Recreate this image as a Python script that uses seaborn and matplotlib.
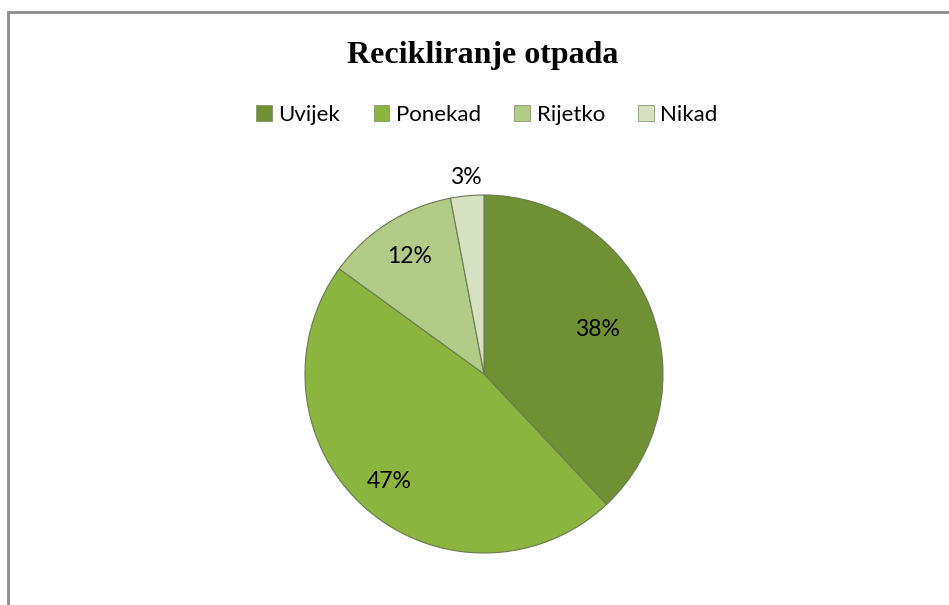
import numpy as np
import matplotlib
matplotlib.use("Agg")
import matplotlib.pyplot as plt
import seaborn as sns
from matplotlib.patches import Rectangle, Patch

categories = ["Uvijek", "Ponekad", "Rijetko", "Nikad"]
values = [38, 47, 12, 3]
labels = ["38%", "47%", "12%", "3%"]
colors = ["#6f9133", "#8cb53f", "#b2cb86", "#d5e1c1"]
label_radius = [0.68, 0.80, 0.78, 1.10]

sns.set_theme(style="white")
plt.rcParams['font.family'] = ['Lato', 'DejaVu Sans']

W, H = 949, 605
fig = plt.figure(figsize=(W / 100, H / 100), dpi=100)
fig.patch.set_facecolor("white")

# outer border (top-left visible)
fig.add_artist(Rectangle((8 / W, -0.1), 1.2, (H - 12) / H + 0.1,
                         transform=fig.transFigure, fill=False,
                         edgecolor="#8c8c8c", linewidth=2))

cx, cy, r = 484, 374, 179
ax = fig.add_axes([(cx - r) / W, (H - cy - r) / H, 2 * r / W, 2 * r / H])
wedges, _ = ax.pie(values, colors=colors, startangle=90, counterclock=False,
                   radius=1.0,
                   wedgeprops=dict(edgecolor="#6b7a55", linewidth=0.8))
ax.set_xlim(-1, 1)
ax.set_ylim(-1, 1)
ax.set_aspect("equal")
ax.axis("off")

for w, lab, lr in zip(wedges, labels, label_radius):
    ang = np.deg2rad((w.theta1 + w.theta2) / 2)
    ax.text(lr * np.cos(ang), lr * np.sin(ang), lab, ha="center", va="center",
            fontsize=16.5, color="black")

fig.text(483 / W, 1 - 56 / H, "Recikliranje otpada", ha="center", va="center",
         fontsize=23, fontweight="bold", color="black",
         family=["Liberation Serif", "DejaVu Serif"])

handles = [Patch(facecolor=c, edgecolor="#7a8a60", linewidth=0.5) for c in colors]
fig.legend(handles, categories, loc="center", bbox_to_anchor=(487 / W, 1 - 115 / H),
           ncol=4, frameon=False, fontsize=16, handlelength=0.7, handleheight=0.7,
           handletextpad=0.3, columnspacing=1.5, labelcolor="black")

fig.savefig("out.png", dpi=100)
